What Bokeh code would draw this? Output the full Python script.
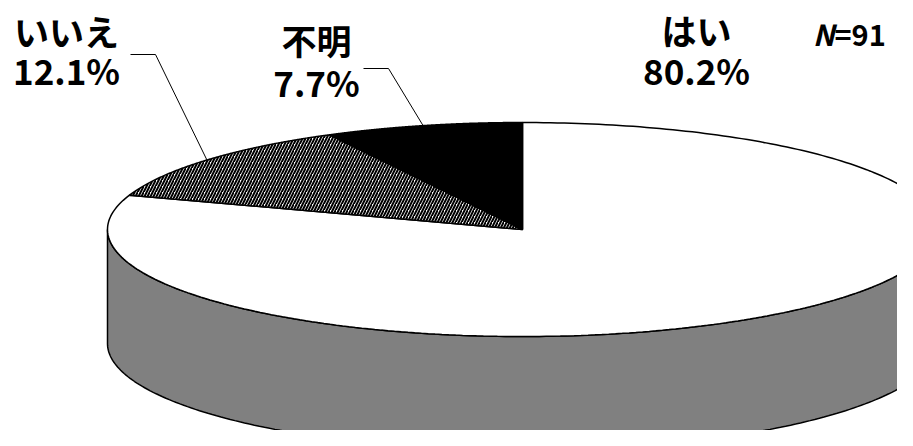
import numpy as np
from bokeh.plotting import figure
from bokeh.models import Range1d, ColumnDataSource
from bokeh.core.properties import value
from bokeh.embed import file_html
from bokeh.resources import INLINE

# ---- data ----
categories = ["はい", "いいえ", "不明"]
percents = [80.2, 12.1, 7.7]
pct_labels = ["80.2%", "12.1%", "7.7%"]
n_label = "=91"

# ---- styling / layout ----
top_colors = ["white", "white", "black"]
hatches = [" ", "/", " "]
side_colors = ["#808080", "#808080", "black"]
label_pos = [(696, 29, 69), (66, 30, 69), (316, 39, 81)]     # x, name-y, pct-y
leader_elbow = [None, (130, 155, 54), (363, 388, 68)]          # x0, x1, y

CX, CY, A, B, DEPTH = 522.0, 229.0, 415.0, 107.0, 114.0
FONT = value("Noto Sans CJK JP")

p = figure(width=897, height=430, x_range=Range1d(0, 897), y_range=Range1d(430, 0),
           output_backend="svg", toolbar_location=None, min_border=0)
p.axis.visible = False
p.grid.visible = False
p.outline_line_color = None
p.background_fill_color = "white"
p.border_fill_color = "white"


def rim(theta, dy=0.0):
    return CX + A * np.cos(theta), CY - B * np.sin(theta) + dy


# slice angles (degrees), clockwise from 12 o'clock
starts, ends = [], []
cur = 90.0
for v in percents:
    starts.append(cur)
    cur -= v * 3.6
    ends.append(cur)

# ---- side walls (visible front half: 180..360 deg) ----
for i in range(len(percents)):
    hi, lo = starts[i], ends[i]
    for shift in (0, 360, -360):
        a0 = max(lo + shift, -180.0)
        a1 = min(hi + shift, 0.0)
        if a1 > a0:
            th = np.radians(np.linspace(a1, a0, 200))
            x1, y1 = rim(th)
            x2, y2 = rim(th[::-1], DEPTH)
            xs = np.concatenate([x1, x2])
            ys = np.concatenate([y1, y2])
            p.patch(xs, ys, fill_color=side_colors[i], line_color="black", line_width=1.5)

# ---- top faces ----
for i in range(len(percents)):
    th = np.radians(np.linspace(starts[i], ends[i], 300))
    x, y = rim(th)
    xs = np.concatenate([[CX], x, [CX]])
    ys = np.concatenate([[CY], y, [CY]])
    kw = {}
    if hatches[i].strip():
        kw = dict(hatch_pattern=hatches[i], hatch_color="black", hatch_scale=6, hatch_weight=2)
    p.patch(xs, ys, fill_color=top_colors[i], line_color="black", line_width=1.5, **kw)

# ---- leader lines ----
for i in range(len(percents)):
    if leader_elbow[i] is None:
        continue
    mid = np.radians((starts[i] + ends[i]) / 2.0)
    mx, my = rim(mid)
    x0, x1, yy = leader_elbow[i]
    p.line([x0, x1, float(mx)], [yy, yy, float(my)], line_color="black", line_width=1)

# ---- labels ----
src = ColumnDataSource(dict(
    x=[lp[0] for lp in label_pos], yn=[lp[1] for lp in label_pos], yp=[lp[2] for lp in label_pos],
    name=categories, pct=pct_labels))
p.text(x="x", y="yn", text="name", source=src, text_font=FONT, text_font_size="35px",
       text_font_style="bold", text_align="center", text_baseline="middle", text_color="black")
p.text(x="x", y="yp", text="pct", source=src, text_font=FONT, text_font_size="35px",
       text_font_style="bold", text_align="center", text_baseline="middle", text_color="black")

p.text(x=[834], y=[32], text=["N"], text_font=FONT, text_font_size="29px",
       text_font_style="bold italic", text_align="right", text_baseline="middle")
p.text(x=[834], y=[32], text=[n_label], text_font=FONT, text_font_size="29px",
       text_font_style="bold", text_align="left", text_baseline="middle")

open("out.html", "w").write(file_html(p, INLINE))
